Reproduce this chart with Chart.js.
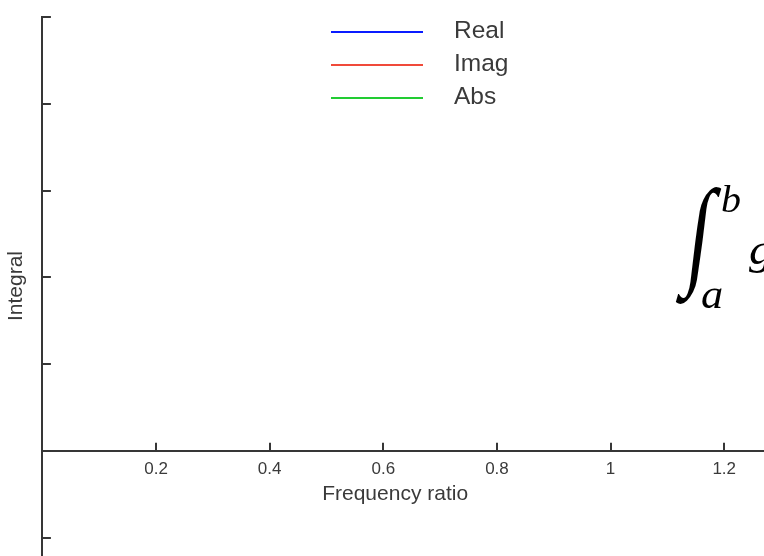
<!DOCTYPE html>
<html><head><meta charset="utf-8">
<script src="https://cdn.jsdelivr.net/npm/chart.js@4"></script>
<style>html,body{margin:0;padding:0;background:#fff;overflow:hidden}#wrap{width:764px;height:556px;position:relative}</style>
</head><body><div id="wrap"><canvas id="c" width="764" height="556"></canvas></div>
<script>
// ---- data ----
const seriesNames = ['Real', 'Imag', 'Abs'];
const seriesColors = ['#0a1cff', '#f04a3a', '#22cc33'];
const realValues = [];
const imagValues = [];
const absValues = [];
const xTickValues = [0.2, 0.4, 0.6, 0.8, 1, 1.2];
const yTickValues = [-1, 0, 1, 2, 3, 4, 5];
const xTitle = 'Frequency ratio';
const yTitle = 'Integral';

const AXIS = '#363636';
const TEXT = '#3a3a3a';
const SANS = '"Liberation Sans", Arial, Helvetica, sans-serif';
const SERIF = '"Liberation Serif", "DejaVu Serif", serif';

const decor = {
  id: 'decor',
  afterDraw(chart) {
    const ctx = chart.ctx, xs = chart.scales.x, ys = chart.scales.y;
    const x0 = xs.getPixelForValue(0), y0 = ys.getPixelForValue(0);
    ctx.save();
    // inward tick marks
    ctx.strokeStyle = AXIS; ctx.lineWidth = 2;
    ctx.beginPath();
    xTickValues.forEach(v => { const p = Math.round(xs.getPixelForValue(v)); ctx.moveTo(p, y0); ctx.lineTo(p, y0 - 8); });
    yTickValues.forEach(v => { const p = Math.round(ys.getPixelForValue(v)); ctx.moveTo(x0, p); ctx.lineTo(x0 + 8.5, p); });
    ctx.stroke();
    // x axis title
    ctx.fillStyle = TEXT; ctx.font = '21px ' + SANS;
    ctx.textAlign = 'center'; ctx.textBaseline = 'middle';
    ctx.fillText(xTitle, xs.getPixelForValue(0.6208), y0 + 43);
    // legend
    chart.data.datasets.forEach((ds, i) => {
      const y = 32 + 33 * i;
      ctx.strokeStyle = ds.borderColor; ctx.lineWidth = 2;
      ctx.beginPath(); ctx.moveTo(331, y); ctx.lineTo(423, y); ctx.stroke();
      ctx.fillStyle = TEXT; ctx.font = '24.5px ' + SANS;
      ctx.textAlign = 'left'; ctx.textBaseline = 'middle';
      ctx.fillText(ds.label, 454, y - 1);
    });
    // math annotation, fitted to boxes (optional slant)
    const fit = (txt, font, bx0, by0, bx1, by1, slant) => {
      ctx.font = font; ctx.textAlign = 'left'; ctx.textBaseline = 'alphabetic';
      const m = ctx.measureText(txt);
      const w = m.actualBoundingBoxLeft + m.actualBoundingBoxRight;
      const h = m.actualBoundingBoxAscent + m.actualBoundingBoxDescent;
      const H = by1 - by0;
      const k = slant ? slant / H : 0;
      const sx = (bx1 - bx0 - (slant || 0)) / w, sy = H / h;
      ctx.save();
      ctx.translate(bx0 + (slant || 0), by0);
      ctx.transform(1, 0, -k, 1, 0, 0);
      ctx.scale(sx, sy);
      ctx.fillStyle = '#000';
      ctx.fillText(txt, m.actualBoundingBoxLeft, m.actualBoundingBoxAscent);
      ctx.restore();
    };
    fit('\u222B', '100px ' + SERIF, 675, 186, 722, 304, 15);
    fit('b', 'italic 40px ' + SERIF, 722, 185, 740, 212);
    fit('a', 'italic 40px ' + SERIF, 702, 287, 722, 308);
    fit('g', 'italic 40px ' + SERIF, 749, 242, 772, 274);
    ctx.restore();
  }
};

new Chart(document.getElementById('c'), {
  type: 'line',
  data: {
    datasets: [
      { label: seriesNames[0], data: realValues, borderColor: seriesColors[0], borderWidth: 2, pointRadius: 0 },
      { label: seriesNames[1], data: imagValues, borderColor: seriesColors[1], borderWidth: 2, pointRadius: 0 },
      { label: seriesNames[2], data: absValues, borderColor: seriesColors[2], borderWidth: 2, pointRadius: 0 }
    ]
  },
  options: {
    responsive: false,
    animation: false,
    events: [],
    layout: { padding: { top: 17, right: 0, bottom: 1, left: 0 } },
    plugins: { legend: { display: false }, tooltip: { enabled: false } },
    scales: {
      x: {
        type: 'linear',
        position: { y: 0 },
        min: 0, max: 1.27,
        afterBuildTicks: s => { s.ticks = xTickValues.map(v => ({ value: v })); },
        ticks: { color: TEXT, font: { size: 17, family: SANS }, padding: 8, maxRotation: 0, autoSkip: false, callback: v => String(v) },
        grid: { drawOnChartArea: false, drawTicks: false },
        border: { color: AXIS, width: 2 }
      },
      y: {
        type: 'linear',
        min: -1.2, max: 5,
        afterBuildTicks: s => { s.ticks = yTickValues.map(v => ({ value: v })); },
        afterFit: s => { s.width = 42.4; },
        ticks: { display: false },
        grid: { drawOnChartArea: false, drawTicks: false },
        border: { color: AXIS, width: 2 },
        title: { display: true, text: yTitle, color: TEXT, font: { size: 21, family: SANS }, padding: { top: 4, bottom: 0 } }
      }
    }
  },
  plugins: [decor]
});
</script>
</body></html>
